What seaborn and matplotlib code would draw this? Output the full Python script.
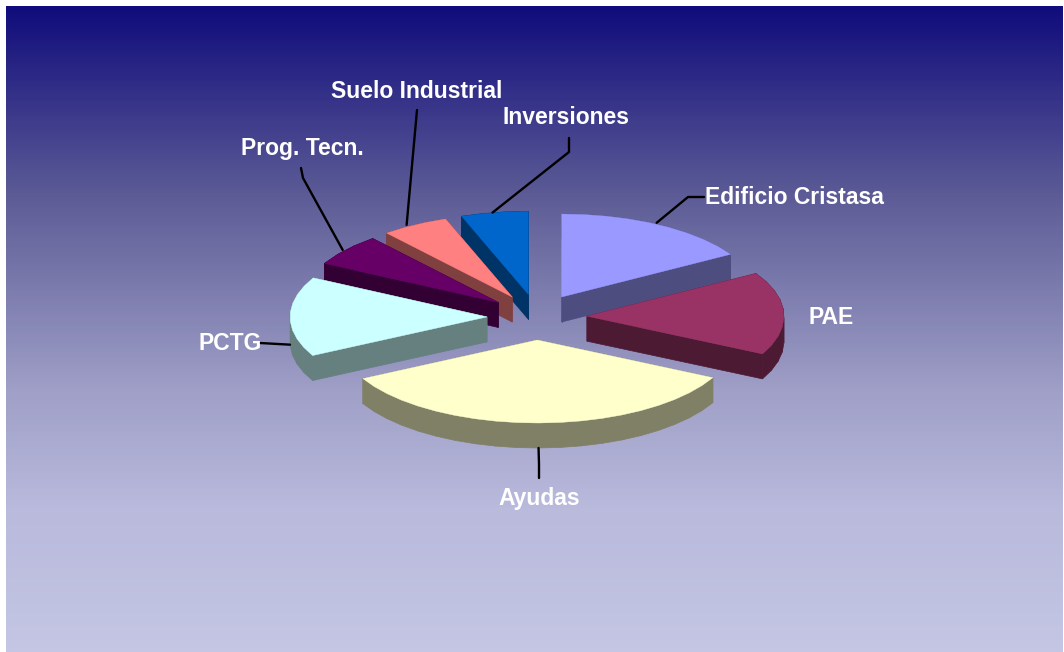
import numpy as np
import matplotlib
matplotlib.use('Agg')
import matplotlib.pyplot as plt
from matplotlib.colors import LinearSegmentedColormap
import seaborn as sns

# slices, clockwise from 12 o'clock
names = ['Edificio Cristasa', 'PAE', 'Ayudas', 'PCTG', 'Prog. Tecn.', 'Suelo Industrial', 'Inversiones']
shares = [16.4, 16.1, 34.8, 15.5, 6.2, 5.5, 5.5]
top_colors = ['#9999ff', '#993366', '#ffffcc', '#ccffff', '#660066', '#ff8080', '#0066cc']

# label anchor (pixels) and alignment
label_x = [705, 809, 539, 199, 241, 331, 503]
label_y = [197, 317, 498, 344, 148, 91, 117]
label_ha = ['left', 'left', 'center', 'left', 'left', 'left', 'left']

# leader line bends after the point on the rim, None = no line
leaders = [[(688, 197), (704, 197)], None, [(539, 464), (539, 478)], [(260, 343)],
           [(303, 178), (301, 168)], [(417, 110)], [(569, 152), (569, 138)]]
# small nudge of the start of each leader on the rim
leader_nudge = [(-2, -2), (0, 0), (0, 0), (0, 3), (-3, 0), (-8, 0), (-2, 0)]

bg_pos = [0.0, 0.29, 0.6, 0.78, 1.0]
bg_colors = ['#100c7c', '#5c5b96', '#a0a0c8', '#b9badc', '#c4c6e4']

# pie geometry in pixels
CX, CY = 537, 317
RX, RY = 197, 83
DX, DY = 50, 23   # explode distance
DEPTH = 25

sns.set_theme(style='white')
plt.rcParams['font.family'] = ['Liberation Sans', 'DejaVu Sans']

fig = plt.figure(figsize=(10.64, 6.52), dpi=100, facecolor='white')
ax = fig.add_axes([0, 0, 1, 1])
ax.axis('off')

# background gradient
cmap = LinearSegmentedColormap.from_list('bg', list(zip(bg_pos, bg_colors)))
grad = np.linspace(0, 1, 646).reshape(-1, 1)
ax.imshow(grad, cmap=cmap, extent=[6, 1063, 652, 6], aspect='auto', zorder=0)
ax.set_xlim(0, 1064)
ax.set_ylim(652, 0)

# slice angles from the shares
sweep = np.array(shares) / np.sum(shares) * 360
ends = 90 - np.cumsum(sweep)
starts = ends + sweep
mids = np.radians((starts + ends) / 2)

order = np.argsort(-np.sin(mids))  # back to front
for z, i in enumerate(order):
    # coarse rim, the original is a faceted polygon too
    theta = np.radians(np.linspace(starts[i], ends[i], max(int(sweep[i] / 6), 3) + 1))
    ax_ = CX + DX * np.cos(mids[i])
    ay_ = CY - DY * np.sin(mids[i])
    xs = np.r_[ax_, ax_ + RX * np.cos(theta)]
    ys = np.r_[ay_, ay_ - RY * np.sin(theta)]
    side = tuple(c * 0.5 for c in matplotlib.colors.to_rgb(top_colors[i]))
    # side faces: one quad for each edge of the top face
    n = len(xs)
    for k in range(n):
        j = (k + 1) % n
        ax.fill([xs[k], xs[j], xs[j], xs[k]],
                [ys[k], ys[j], ys[j] + DEPTH, ys[k] + DEPTH],
                color=side, lw=0.5, zorder=2 + z)
    ax.fill(xs, ys, color=top_colors[i], lw=0.3, zorder=2 + z + 0.5)

# leader lines start at the rim, in the middle of the slice
for i, bends in enumerate(leaders):
    if bends is None:
        continue
    rx = CX + (DX + RX) * np.cos(mids[i]) + leader_nudge[i][0]
    ry = CY - (DY + RY) * np.sin(mids[i]) + leader_nudge[i][1]
    if np.sin(mids[i]) < 0.1:
        ry += DEPTH
    pts = [(rx, ry)] + bends
    ax.plot([p[0] for p in pts], [p[1] for p in pts], color='black', lw=1.7, zorder=20)

for name, x, y, ha in zip(names, label_x, label_y, label_ha):
    ax.text(x, y, name, color='white', fontsize=16.5, fontweight='bold', ha=ha, va='center', zorder=21)

fig.savefig('out.png', dpi=100, facecolor='white')
